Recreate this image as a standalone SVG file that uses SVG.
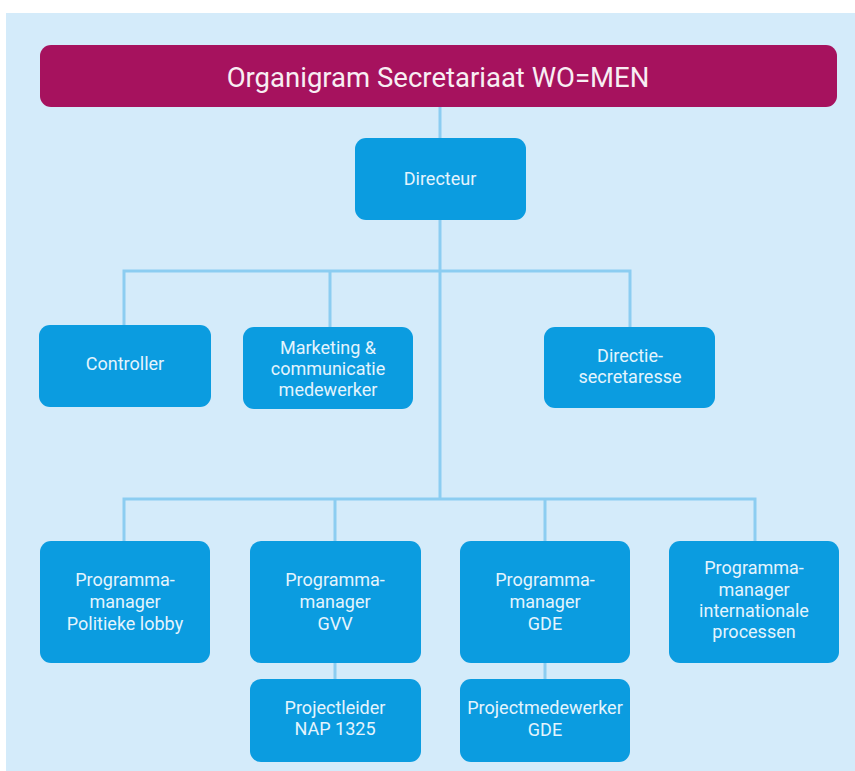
<svg xmlns="http://www.w3.org/2000/svg" width="855" height="771" viewBox="0 0 855 771">
  <style>
    .bg { fill: #d4ebfa; }
    .box { fill: #0b9ce0; }
    .title-box { fill: #a6125e; }
    .lbl { font-family: Roboto, "Liberation Sans", sans-serif; font-size: 18px; fill: #e4f4fd; text-anchor: middle; }
    .title { font-family: Roboto, "Liberation Sans", sans-serif; font-size: 27.5px; fill: #f8eef3; text-anchor: middle; }
    .conn { stroke: #8ccdf1; stroke-width: 3; fill: none; }
  </style>
  <rect x="0" y="0" width="855" height="771" fill="#ffffff"/>
  <rect class="bg" x="6" y="13" width="849" height="758"/>

  <g id="connectors">
    <line class="conn" x1="440" y1="106" x2="440" y2="499"/>
    <polyline class="conn" points="124,325 124,271 630,271 630,327"/>
    <line class="conn" x1="330" y1="271" x2="330" y2="327"/>
    <polyline class="conn" points="124,541 124,499 755,499 755,541"/>
    <line class="conn" x1="335" y1="499" x2="335" y2="541"/>
    <line class="conn" x1="545" y1="499" x2="545" y2="541"/>
    <line class="conn" x1="335" y1="663" x2="335" y2="679"/>
    <line class="conn" x1="545" y1="663" x2="545" y2="679"/>
  </g>

  <g id="title">
    <rect class="title-box" x="40" y="45" width="797" height="62" rx="11"/>
    <text class="title" x="438" y="87">Organigram Secretariaat WO=MEN</text>
  </g>

  <g id="directeur">
    <rect class="box" x="355" y="138" width="171" height="82" rx="11"/>
    <text class="lbl" x="440" y="185">Directeur</text>
  </g>

  <g id="controller">
    <rect class="box" x="39" y="325" width="172" height="82" rx="11"/>
    <text class="lbl" x="125" y="370">Controller</text>
  </g>

  <g id="marketing">
    <rect class="box" x="243" y="327" width="170" height="82" rx="11"/>
    <text class="lbl" x="328" y="354">Marketing &amp;</text>
    <text class="lbl" x="328" y="375">communicatie</text>
    <text class="lbl" x="328" y="396">medewerker</text>
  </g>

  <g id="directiesecretaresse">
    <rect class="box" x="544" y="327" width="171" height="81" rx="11"/>
    <text class="lbl" x="630" y="362">Directie-</text>
    <text class="lbl" x="630" y="383">secretaresse</text>
  </g>

  <g id="pm-politieke-lobby">
    <rect class="box" x="40" y="541" width="170" height="122" rx="11"/>
    <text class="lbl" x="125" y="586">Programma-</text>
    <text class="lbl" x="125" y="608">manager</text>
    <text class="lbl" x="125" y="630">Politieke lobby</text>
  </g>

  <g id="pm-gvv">
    <rect class="box" x="250" y="541" width="171" height="122" rx="11"/>
    <text class="lbl" x="335" y="586">Programma-</text>
    <text class="lbl" x="335" y="608">manager</text>
    <text class="lbl" x="335" y="630">GVV</text>
  </g>

  <g id="pm-gde">
    <rect class="box" x="460" y="541" width="170" height="122" rx="11"/>
    <text class="lbl" x="545" y="586">Programma-</text>
    <text class="lbl" x="545" y="608">manager</text>
    <text class="lbl" x="545" y="630">GDE</text>
  </g>

  <g id="pm-internationale-processen">
    <rect class="box" x="669" y="541" width="170" height="122" rx="11"/>
    <text class="lbl" x="754" y="574">Programma-</text>
    <text class="lbl" x="754" y="596">manager</text>
    <text class="lbl" x="754" y="617">internationale</text>
    <text class="lbl" x="754" y="638">processen</text>
  </g>

  <g id="projectleider-nap">
    <rect class="box" x="250" y="679" width="171" height="83" rx="11"/>
    <text class="lbl" x="335" y="714">Projectleider</text>
    <text class="lbl" x="335" y="735">NAP 1325</text>
  </g>

  <g id="projectmedewerker-gde">
    <rect class="box" x="460" y="679" width="170" height="83" rx="11"/>
    <text class="lbl" x="545" y="714">Projectmedewerker</text>
    <text class="lbl" x="545" y="736">GDE</text>
  </g>
</svg>
